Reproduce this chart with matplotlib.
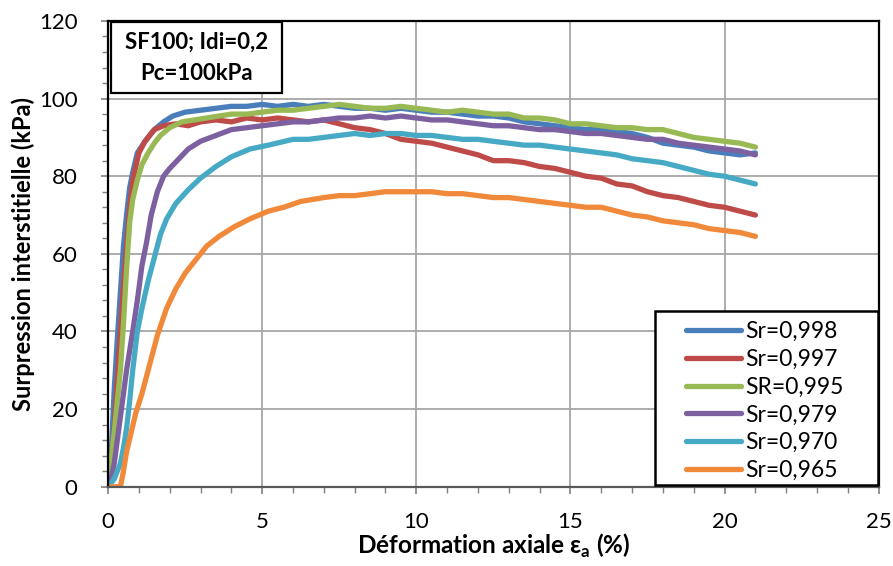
import matplotlib
matplotlib.use("Agg")
import matplotlib.pyplot as plt
from matplotlib.patches import Rectangle
from matplotlib.ticker import MultipleLocator

plt.rcParams['font.family'] = ['Lato', 'DejaVu Sans']
plt.rcParams['mathtext.fontset'] = 'custom'
plt.rcParams['mathtext.rm'] = 'Lato'
plt.rcParams['mathtext.bf'] = 'Lato:bold'

labels = ['Sr=0,998', 'Sr=0,997', 'SR=0,995', 'Sr=0,979', 'Sr=0,970', 'Sr=0,965']
colors = ['#4A7EBB', '#BE4B48', '#98B954', '#7D60A0', '#46AAC5', '#F08A3A']

# Sr=0,998
x1 = [0, 0.1, 0.2, 0.3, 0.4, 0.5, 0.6, 0.7, 0.8, 0.95, 1.2, 1.5, 1.8, 2.1, 2.5, 3.0, 3.5, 4.0, 4.5, 5.0,
      5.5, 6.0, 6.5, 7.0, 7.5, 8.0, 8.5, 9.0, 9.5, 10, 10.5, 11, 11.5, 12, 12.5, 13, 13.5, 14, 14.5, 15,
      15.5, 16, 16.5, 17, 17.5, 18, 18.5, 19, 19.5, 20, 20.5, 21]
y1 = [0, 8, 25, 38, 50, 62, 70, 77, 81, 86, 89, 92, 94, 95.5, 96.5, 97, 97.5, 98, 98, 98.5,
      98, 98.5, 98, 98.5, 98, 97.5, 97.5, 97, 97.5, 97, 96.5, 96.5, 96, 95.5, 95.5, 95, 94, 93.5, 93, 92.5,
      92, 92, 91.5, 91, 90, 88.5, 88, 87.5, 86.5, 86, 85.5, 86]

# Sr=0,997
x2 = [0, 0.1, 0.2, 0.3, 0.4, 0.5, 0.6, 0.7, 0.8, 1.0, 1.2, 1.5, 1.8, 2.2, 2.6, 3.0, 3.5, 4, 4.5, 5,
      5.5, 6, 6.5, 7, 7.5, 8, 8.5, 9, 9.5, 10, 10.5, 11, 11.5, 12, 12.5, 13, 13.5, 14, 14.5, 15,
      15.5, 16, 16.5, 17, 17.5, 18, 18.5, 19, 19.5, 20, 20.5, 21]
y2 = [0, 5, 15, 28, 40, 52, 62, 72, 79, 86, 89, 92, 93, 93.5, 93, 94, 94.5, 94, 95, 94.5,
      95, 94.5, 94, 94.5, 93.5, 92.5, 92, 91, 89.5, 89, 88.5, 87.5, 86.5, 85.5, 84, 84, 83.5, 82.5, 82, 81,
      80, 79.5, 78, 77.5, 76, 75, 74.5, 73.5, 72.5, 72, 71, 70]

# SR=0,995
x3 = [0, 0.1, 0.2, 0.3, 0.4, 0.5, 0.6, 0.7, 0.8, 0.95, 1.1, 1.3, 1.5, 1.7, 2.0, 2.4, 2.8, 3.2, 3.6, 4,
      4.5, 5, 5.5, 6, 6.5, 7, 7.5, 8, 8.5, 9, 9.5, 10, 10.5, 11, 11.5, 12, 12.5, 13, 13.5, 14,
      14.5, 15, 15.5, 16, 16.5, 17, 17.5, 18, 18.5, 19, 19.5, 20, 20.5, 21]
y3 = [0, 7, 14, 22, 30, 42, 56, 68, 74, 79, 83, 86, 88.5, 90.5, 92.5, 94, 94.5, 95, 95.5, 96,
      96, 96.5, 97, 97, 97.5, 98, 98.5, 98, 97.5, 97.5, 98, 97.5, 97, 96.5, 97, 96.5, 96, 96, 95, 95,
      94.5, 93.5, 93.5, 93, 92.5, 92.5, 92, 92, 91, 90, 89.5, 89, 88.5, 87.5]

# Sr=0,979
x4 = [0, 0.1, 0.2, 0.3, 0.4, 0.5, 0.6, 0.7, 0.8, 0.95, 1.1, 1.25, 1.4, 1.6, 1.8, 2.0, 2.3, 2.6, 3.0, 3.5,
      4.0, 4.5, 5, 5.5, 6, 6.5, 7, 7.5, 8, 8.5, 9, 9.5, 10, 10.5, 11, 11.5, 12, 12.5, 13, 13.5,
      14, 14.5, 15, 15.5, 16, 16.5, 17, 17.5, 18, 18.5, 19, 19.5, 20, 20.5, 21]
y4 = [0, 2, 6, 12, 18, 24, 30, 35, 40, 48, 57, 63, 70, 76, 80, 82, 84.5, 87, 89, 90.5,
      92, 92.5, 93, 93.5, 94, 94, 94.5, 95, 95, 95.5, 95, 95.5, 95, 94.5, 94.5, 94, 93.5, 93, 93, 92.5,
      92, 92, 91.5, 91, 91, 90.5, 90, 89.5, 89.5, 88.5, 88, 87.5, 87, 86.5, 85.5]

# Sr=0,970
x5 = [0, 0.2, 0.4, 0.5, 0.6, 0.7, 0.8, 0.95, 1.1, 1.3, 1.5, 1.7, 1.9, 2.2, 2.6, 3.0, 3.5, 4.0, 4.6, 5.2,
      6.0, 6.5, 7, 7.5, 8, 8.5, 9, 9.5, 10, 10.5, 11, 11.5, 12, 12.5, 13, 13.5, 14, 14.5, 15, 15.5,
      16, 16.5, 17, 17.5, 18, 18.5, 19, 19.5, 20, 20.5, 21]
y5 = [0, 2, 6, 10, 15, 22, 30, 40, 46, 53, 59, 65, 69, 73, 76.5, 79.5, 82.5, 85, 87, 88,
      89.5, 89.5, 90, 90.5, 91, 90.5, 91, 91, 90.5, 90.5, 90, 89.5, 89.5, 89, 88.5, 88, 88, 87.5, 87, 86.5,
      86, 85.5, 84.5, 84, 83.5, 82.5, 81.5, 80.5, 80, 79, 78]

# Sr=0,965
x6 = [0, 0.2, 0.4, 0.5, 0.6, 0.75, 0.9, 1.1, 1.3, 1.6, 1.9, 2.2, 2.5, 2.8, 3.2, 3.6, 4.1, 4.6, 5.2, 5.7,
      6.25, 7, 7.5, 8, 8.5, 9, 9.5, 10, 10.5, 11, 11.5, 12, 12.5, 13, 13.5, 14, 14.5, 15, 15.5, 16,
      16.5, 17, 17.5, 18, 18.5, 19, 19.5, 20, 20.5, 21]
y6 = [0, 0, 0, 4, 9, 14, 19, 24, 30, 39, 46, 51, 55, 58, 62, 64.5, 67, 69, 71, 72,
      73.5, 74.5, 75, 75, 75.5, 76, 76, 76, 76, 75.5, 75.5, 75, 74.5, 74.5, 74, 73.5, 73, 72.5, 72, 72,
      71, 70, 69.5, 68.5, 68, 67.5, 66.5, 66, 65.5, 64.5]

xs = [x1, x2, x3, x4, x5, x6]
ys = [y1, y2, y3, y4, y5, y6]

fig = plt.figure(figsize=(8.93, 5.66), dpi=100)
ax = fig.add_axes([0.121, 0.14, 0.863, 0.823])

for x, y, c, lab in zip(xs, ys, colors, labels):
    ax.plot(x, y, color=c, lw=3.8, label=lab, solid_joinstyle='round', solid_capstyle='round')

ax.set_xlim(0, 25)
ax.set_ylim(0, 120)
ax.xaxis.set_major_locator(MultipleLocator(5))
ax.xaxis.set_minor_locator(MultipleLocator(1))
ax.yaxis.set_major_locator(MultipleLocator(20))
ax.yaxis.set_minor_locator(MultipleLocator(4))
ax.grid(True, which='major', color='#A6A6A6', lw=1.3)
ax.set_axisbelow(True)
ax.tick_params(which='both', direction='out', color='#808080', labelsize=16)
ax.tick_params(which='major', length=5, width=1.2)
ax.tick_params(which='minor', length=4, width=1.0)
ax.tick_params(axis='x', which='major', pad=13)
ax.tick_params(axis='y', which='major', pad=17)
for s in ax.spines.values():
    s.set_color('black')
    s.set_linewidth(1.6)
ax.spines['bottom'].set_color('#595959')

ax.set_xlabel(r'Déformation axiale ε$_\mathbf{a}$ (%)', fontsize=17.5, fontweight='bold', labelpad=0)
ax.set_ylabel('Surpression interstitielle (kPa)', fontsize=17, fontweight='bold', labelpad=3)

# annotation box
ax.add_patch(Rectangle((0.004, 0.845), 0.222, 0.153, transform=ax.transAxes,
                       facecolor='white', edgecolor='black', lw=1.6, zorder=5))
ax.text(0.115, 0.955, 'SF100; Idi=0,2', transform=ax.transAxes, ha='center', va='center',
        fontsize=16, fontweight='bold', zorder=6)
ax.text(0.115, 0.888, 'Pc=100kPa', transform=ax.transAxes, ha='center', va='center',
        fontsize=16, fontweight='bold', zorder=6)

# legend frame drawn separately so the entries can sit inset like the original
ax.add_patch(Rectangle((0.7095, 0.004), 0.289, 0.373, transform=ax.transAxes,
                       facecolor='white', edgecolor='black', lw=1.8, zorder=5))
leg = ax.legend(loc='lower left', bbox_to_anchor=(0.75, 0.012), frameon=False,
                fontsize=16.5, borderaxespad=0, borderpad=0,
                handlelength=2.4, handletextpad=0.2, labelspacing=0.3)
leg.set_zorder(6)

fig.savefig('out.png', dpi=100)
